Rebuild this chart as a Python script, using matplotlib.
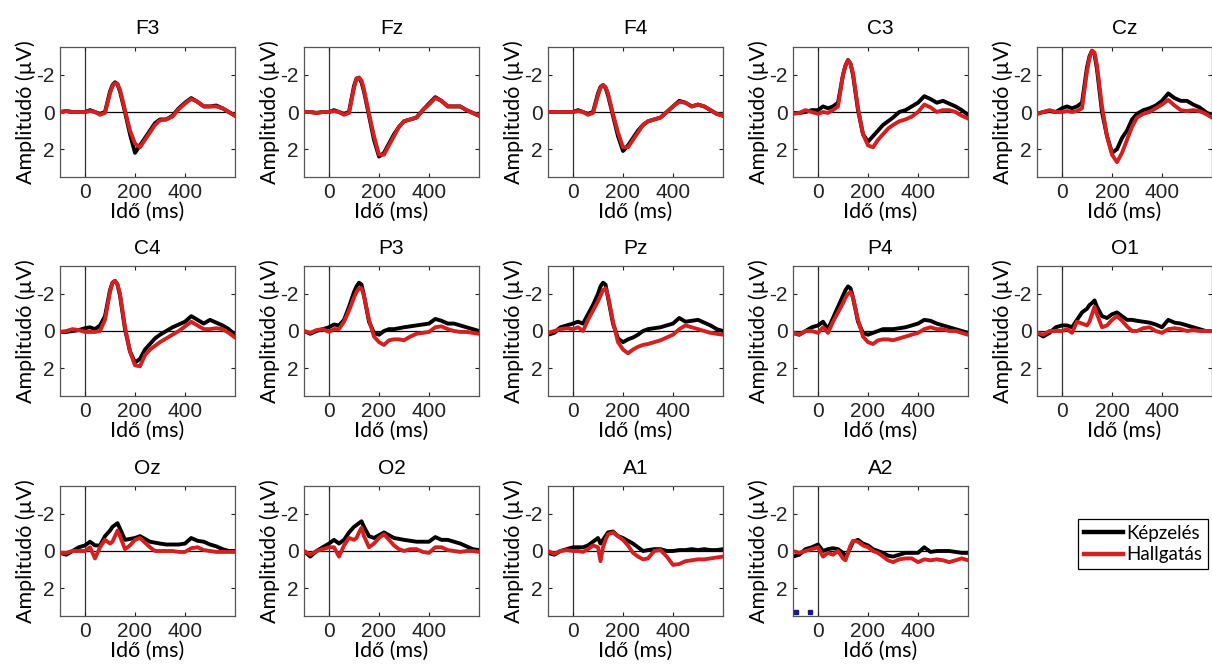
import numpy as np
import matplotlib
matplotlib.use('Agg')
import matplotlib.pyplot as plt

plt.rcParams['axes.unicode_minus'] = False

# time axis (ms), denser around the N1 peak
t = [-100, -75, -50, -25, 0, 20, 40, 60, 80, 100, 110, 120, 130, 140, 160, 180,
     200, 220, 240, 260, 280, 300, 325, 350, 375, 400, 425, 450, 475, 500, 525,
     550, 575, 600]

channels = ['F3', 'Fz', 'F4', 'C3', 'Cz', 'C4', 'P3', 'Pz', 'P4', 'O1', 'Oz', 'O2', 'A1', 'A2']
legend_labels = ['Képzelés', 'Hallgatás']

# _k = Képzelés (black), _r = Hallgatás (red), values in µV
F3_k = [0.0, -0.05, 0.0, 0.0, 0.0, -0.1, 0.0, 0.1, 0.0, -1.1, -1.45, -1.6, -1.5, -1.1, 0.0, 1.2, 2.2, 1.8, 1.4, 1.0, 0.6, 0.4, 0.4, 0.2, -0.2, -0.5, -0.75, -0.55, -0.3, -0.3, -0.35, -0.2, 0.0, 0.2]
F3_r = [0.0, -0.05, 0.0, 0.0, 0.0, -0.05, 0.0, 0.15, 0.05, -1.0, -1.4, -1.55, -1.5, -1.2, -0.1, 1.0, 1.7, 1.9, 1.5, 1.1, 0.7, 0.45, 0.4, 0.25, -0.15, -0.45, -0.7, -0.55, -0.3, -0.3, -0.3, -0.2, 0.0, 0.2]
Fz_k = [0.0, 0.0, 0.05, 0.0, 0.0, -0.1, 0.0, 0.1, 0.0, -1.4, -1.8, -1.85, -1.6, -1.1, 0.2, 1.5, 2.4, 2.2, 1.7, 1.2, 0.8, 0.5, 0.4, 0.3, -0.1, -0.45, -0.8, -0.6, -0.3, -0.3, -0.3, -0.1, 0.05, 0.2]
Fz_r = [0.0, 0.0, 0.05, 0.0, 0.0, -0.05, 0.0, 0.15, 0.05, -1.3, -1.8, -1.85, -1.7, -1.2, 0.1, 1.3, 2.3, 2.3, 1.8, 1.3, 0.8, 0.5, 0.4, 0.3, -0.1, -0.4, -0.75, -0.6, -0.3, -0.3, -0.3, -0.1, 0.05, 0.2]
F4_k = [0.0, 0.0, 0.0, 0.0, 0.0, -0.1, 0.0, 0.1, 0.0, -1.0, -1.35, -1.45, -1.3, -0.9, 0.2, 1.3, 2.1, 1.8, 1.4, 1.0, 0.7, 0.5, 0.4, 0.3, 0.0, -0.3, -0.6, -0.5, -0.3, -0.4, -0.3, -0.1, 0.1, 0.2]
F4_r = [0.0, 0.0, 0.0, 0.0, 0.0, -0.05, 0.0, 0.15, 0.05, -0.9, -1.3, -1.45, -1.35, -1.0, 0.1, 1.1, 1.9, 1.9, 1.5, 1.1, 0.7, 0.5, 0.4, 0.3, 0.0, -0.3, -0.55, -0.5, -0.3, -0.4, -0.3, -0.1, 0.1, 0.2]
C3_k = [0.05, 0.05, 0.0, -0.1, -0.1, -0.3, -0.2, -0.3, -0.5, -2.0, -2.5, -2.8, -2.6, -2.0, -0.1, 1.2, 1.6, 1.3, 1.0, 0.7, 0.5, 0.3, 0.0, -0.1, -0.3, -0.5, -0.85, -0.7, -0.5, -0.6, -0.45, -0.3, -0.1, 0.15]
C3_r = [0.1, 0.05, -0.1, 0.0, 0.1, 0.0, 0.05, -0.1, -0.3, -2.0, -2.5, -2.8, -2.6, -2.1, -0.2, 1.2, 1.8, 1.9, 1.5, 1.2, 0.9, 0.7, 0.5, 0.4, 0.25, 0.0, -0.4, -0.25, 0.0, -0.1, -0.1, 0.0, 0.2, 0.35]
Cz_k = [0.1, 0.0, -0.05, 0.0, -0.2, -0.3, -0.2, -0.3, -0.5, -2.4, -3.0, -3.3, -3.1, -2.3, 0.0, 1.3, 2.2, 2.0, 1.4, 1.0, 0.4, 0.1, -0.1, -0.2, -0.35, -0.6, -1.0, -0.75, -0.6, -0.6, -0.4, -0.25, 0.0, 0.2]
Cz_r = [0.1, 0.0, -0.1, 0.0, 0.0, -0.05, 0.0, -0.05, -0.2, -2.2, -2.9, -3.3, -3.2, -2.5, -0.3, 1.3, 2.3, 2.7, 2.2, 1.5, 0.8, 0.3, 0.1, 0.0, -0.2, -0.4, -0.65, -0.35, -0.1, -0.05, -0.1, -0.05, 0.1, 0.3]
C4_k = [0.05, 0.05, 0.0, -0.05, -0.15, -0.2, -0.1, -0.3, -0.8, -2.2, -2.6, -2.7, -2.5, -1.9, -0.1, 1.1, 1.7, 1.5, 1.0, 0.7, 0.4, 0.2, 0.0, -0.2, -0.35, -0.5, -0.8, -0.6, -0.4, -0.6, -0.45, -0.3, -0.1, 0.2]
C4_r = [0.05, 0.0, -0.1, -0.05, 0.05, 0.05, 0.05, 0.0, -0.6, -2.1, -2.6, -2.7, -2.5, -2.0, -0.2, 1.1, 1.85, 1.9, 1.3, 1.0, 0.8, 0.6, 0.4, 0.2, 0.0, -0.25, -0.5, -0.3, -0.1, -0.1, -0.15, -0.1, 0.1, 0.35]
P3_k = [0.0, 0.15, 0.0, -0.1, -0.2, -0.35, -0.3, -0.6, -1.3, -2.1, -2.4, -2.6, -2.5, -1.9, -0.5, 0.1, 0.2, 0.0, -0.1, -0.1, -0.15, -0.2, -0.25, -0.3, -0.35, -0.4, -0.65, -0.55, -0.4, -0.4, -0.3, -0.2, -0.1, 0.0]
P3_r = [0.0, 0.1, -0.05, -0.1, 0.05, -0.1, -0.1, -0.5, -1.1, -1.8, -2.1, -2.3, -2.3, -1.9, -0.6, 0.3, 0.6, 0.75, 0.5, 0.45, 0.45, 0.5, 0.3, 0.15, 0.1, 0.05, -0.2, -0.25, -0.1, 0.0, 0.05, 0.05, 0.1, 0.15]
Pz_k = [0.2, 0.1, -0.2, -0.3, -0.4, -0.5, -0.4, -0.9, -1.4, -2.0, -2.4, -2.6, -2.5, -1.8, -0.4, 0.4, 0.6, 0.45, 0.35, 0.2, 0.0, -0.1, -0.15, -0.2, -0.3, -0.4, -0.7, -0.5, -0.55, -0.6, -0.45, -0.3, -0.1, 0.0]
Pz_r = [0.1, 0.0, -0.1, -0.15, -0.1, -0.2, 0.0, -0.6, -1.1, -1.6, -1.9, -2.2, -2.3, -1.9, -0.5, 0.6, 1.0, 1.2, 1.0, 0.85, 0.75, 0.7, 0.6, 0.5, 0.35, 0.2, -0.1, -0.3, -0.2, -0.1, 0.0, 0.1, 0.15, 0.2]
P4_k = [0.1, 0.2, 0.0, -0.2, -0.3, -0.5, -0.1, -0.7, -1.3, -1.9, -2.2, -2.4, -2.3, -1.8, -0.5, 0.1, 0.2, 0.1, 0.0, -0.1, -0.1, -0.1, -0.15, -0.2, -0.3, -0.4, -0.6, -0.55, -0.4, -0.3, -0.2, -0.1, 0.0, 0.1]
P4_r = [0.1, 0.2, 0.0, 0.0, 0.1, -0.2, 0.1, -0.5, -1.0, -1.5, -1.8, -2.0, -2.1, -1.8, -0.6, 0.3, 0.6, 0.7, 0.5, 0.45, 0.45, 0.5, 0.4, 0.3, 0.2, 0.1, -0.1, -0.2, -0.1, -0.1, 0.0, 0.0, 0.1, 0.2]
O1_k = [0.1, 0.3, 0.1, -0.2, -0.3, -0.3, -0.2, -0.6, -1.0, -1.2, -1.4, -1.5, -1.65, -1.3, -0.8, -0.7, -0.9, -1.0, -0.8, -0.6, -0.6, -0.55, -0.5, -0.45, -0.35, -0.2, -0.6, -0.45, -0.4, -0.3, -0.2, -0.1, 0.0, 0.0]
O1_r = [0.1, 0.2, 0.0, 0.0, 0.0, -0.1, 0.1, -0.5, -0.4, -0.3, -0.5, -0.9, -1.3, -0.9, -0.2, -0.3, -0.6, -0.8, -0.55, -0.25, 0.0, 0.0, -0.15, -0.2, 0.0, 0.1, -0.1, -0.15, -0.1, 0.0, -0.05, 0.0, 0.0, 0.0]
Oz_k = [0.1, 0.2, 0.0, -0.2, -0.3, -0.5, -0.3, -0.3, -0.8, -1.1, -1.3, -1.4, -1.5, -1.2, -0.6, -0.65, -0.7, -0.8, -0.65, -0.5, -0.45, -0.4, -0.35, -0.35, -0.35, -0.4, -0.7, -0.55, -0.5, -0.35, -0.25, -0.1, 0.0, 0.0]
Oz_r = [0.1, 0.1, 0.0, 0.0, 0.0, -0.2, 0.4, -0.2, -0.6, -0.4, -0.5, -0.8, -1.1, -0.8, -0.1, -0.3, -0.6, -0.7, -0.45, -0.2, 0.0, 0.0, 0.0, 0.0, 0.05, 0.05, -0.15, -0.2, -0.05, 0.0, 0.05, 0.05, 0.05, 0.05]
O2_k = [0.0, 0.3, 0.0, -0.2, -0.4, -0.6, -0.4, -0.6, -1.0, -1.3, -1.4, -1.5, -1.6, -1.3, -0.8, -0.7, -0.85, -1.0, -0.85, -0.7, -0.65, -0.6, -0.55, -0.5, -0.5, -0.5, -0.75, -0.6, -0.6, -0.5, -0.4, -0.25, -0.1, -0.05]
O2_r = [0.0, 0.2, 0.0, -0.1, -0.2, -0.2, 0.3, -0.3, -0.7, -0.6, -0.7, -1.0, -1.25, -0.8, -0.2, -0.4, -0.7, -0.9, -0.6, -0.3, -0.1, 0.0, -0.1, -0.1, 0.05, 0.1, -0.2, -0.2, -0.05, 0.0, 0.05, 0.0, 0.0, 0.05]
A1_k = [0.1, 0.2, 0.0, -0.1, -0.2, -0.2, -0.2, -0.3, -0.5, -0.7, -0.4, -0.6, -0.8, -1.0, -1.05, -0.8, -0.7, -0.55, -0.4, -0.2, 0.0, -0.05, -0.1, -0.1, 0.0, 0.0, -0.05, -0.05, -0.1, -0.05, -0.1, -0.05, -0.05, -0.1]
A1_r = [0.0, 0.15, 0.0, -0.05, 0.0, 0.0, 0.05, -0.1, -0.3, -0.2, 0.55, -0.2, -0.6, -0.9, -1.0, -0.8, -0.6, -0.3, 0.1, 0.3, 0.45, 0.4, 0.0, -0.05, 0.3, 0.75, 0.7, 0.55, 0.5, 0.45, 0.45, 0.4, 0.35, 0.3]
A2_k = [0.3, 0.2, -0.1, -0.2, -0.35, 0.0, -0.1, -0.15, -0.1, 0.1, 0.3, 0.1, -0.2, -0.5, -0.6, -0.4, -0.3, -0.1, 0.0, 0.1, 0.25, 0.3, 0.2, 0.1, 0.1, 0.1, -0.2, 0.05, 0.0, 0.0, 0.0, 0.05, 0.1, 0.1]
A2_r = [0.0, 0.1, 0.0, -0.1, -0.2, 0.3, 0.1, 0.2, 0.0, 0.4, 0.5, 0.1, -0.3, -0.55, -0.5, -0.3, -0.2, 0.0, 0.1, 0.3, 0.5, 0.6, 0.45, 0.4, 0.4, 0.6, 0.45, 0.5, 0.45, 0.5, 0.6, 0.5, 0.4, 0.5]

# two stray marker points near the bottom of the A2 panel
A2_dots_t = [-88, -31]
A2_dots_v = [3.3, 3.3]

black_series = [F3_k, Fz_k, F4_k, C3_k, Cz_k, C4_k, P3_k, Pz_k, P4_k, O1_k, Oz_k, O2_k, A1_k, A2_k]
red_series = [F3_r, Fz_r, F4_r, C3_r, Cz_r, C4_r, P3_r, Pz_r, P4_r, O1_r, Oz_r, O2_r, A1_r, A2_r]

RED = '#d42020'
tick_font = 'Liberation Sans'
label_font = ['Lato', 'DejaVu Sans']

W, H = 1212, 668
fig = plt.figure(figsize=(W / 100, H / 100), dpi=100)

col_left = [60, 304, 548, 793, 1037]
row_bottom = [177, 396, 616]
aw, ah = 175, 130

for i, ch in enumerate(channels):
    r, c = divmod(i, 5)
    ax = fig.add_axes([col_left[c] / W, 1 - row_bottom[r] / H, aw / W, ah / H])
    ax.axhline(0, color='k', lw=0.9, zorder=1)
    ax.axvline(0, color='#333333', lw=0.9, zorder=1)
    ax.plot(t, black_series[i], color='k', lw=2.8, solid_joinstyle='round', zorder=2)
    ax.plot(t, red_series[i], color=RED, lw=2.8, solid_joinstyle='round', zorder=3)
    if ch == 'A2':
        ax.plot(A2_dots_t, A2_dots_v, 's', color='#1a1a8c', ms=2.5, zorder=4)
    ax.set_xlim(-100, 600)
    ax.set_ylim(3.5, -3.5)
    ax.set_xticks([0, 200, 400])
    ax.set_yticks([-2, 0, 2])
    ax.tick_params(direction='in', length=3, top=True, right=True, pad=4,
                   labelsize=15, colors='#222222')
    for lab in ax.get_xticklabels() + ax.get_yticklabels():
        lab.set_family(tick_font)
    for sp in ax.spines.values():
        sp.set_color('#555555')
        sp.set_linewidth(0.9)
    ax.set_title(ch, fontsize=15, family=tick_font, pad=9)
    ax.set_xlabel('Idő (ms)', fontsize=15.5, family=label_font, labelpad=0)
    ax.set_ylabel('Amplitúdó (µV)', fontsize=15.5, family=label_font, labelpad=0)

handles = [plt.Line2D([], [], color='k', lw=3.2), plt.Line2D([], [], color=RED, lw=3.2)]
leg = fig.legend(handles, legend_labels, loc='upper left',
                 bbox_to_anchor=(1078 / W, 1 - 519 / H), borderaxespad=0,
                 frameon=True, fancybox=False, edgecolor='k', framealpha=1,
                 prop={'family': label_font, 'size': 13.5}, handlelength=2.1,
                 handletextpad=0.2, labelspacing=0.25, borderpad=0.3)
leg.get_frame().set_linewidth(0.9)

fig.savefig('out.png', dpi=100)
